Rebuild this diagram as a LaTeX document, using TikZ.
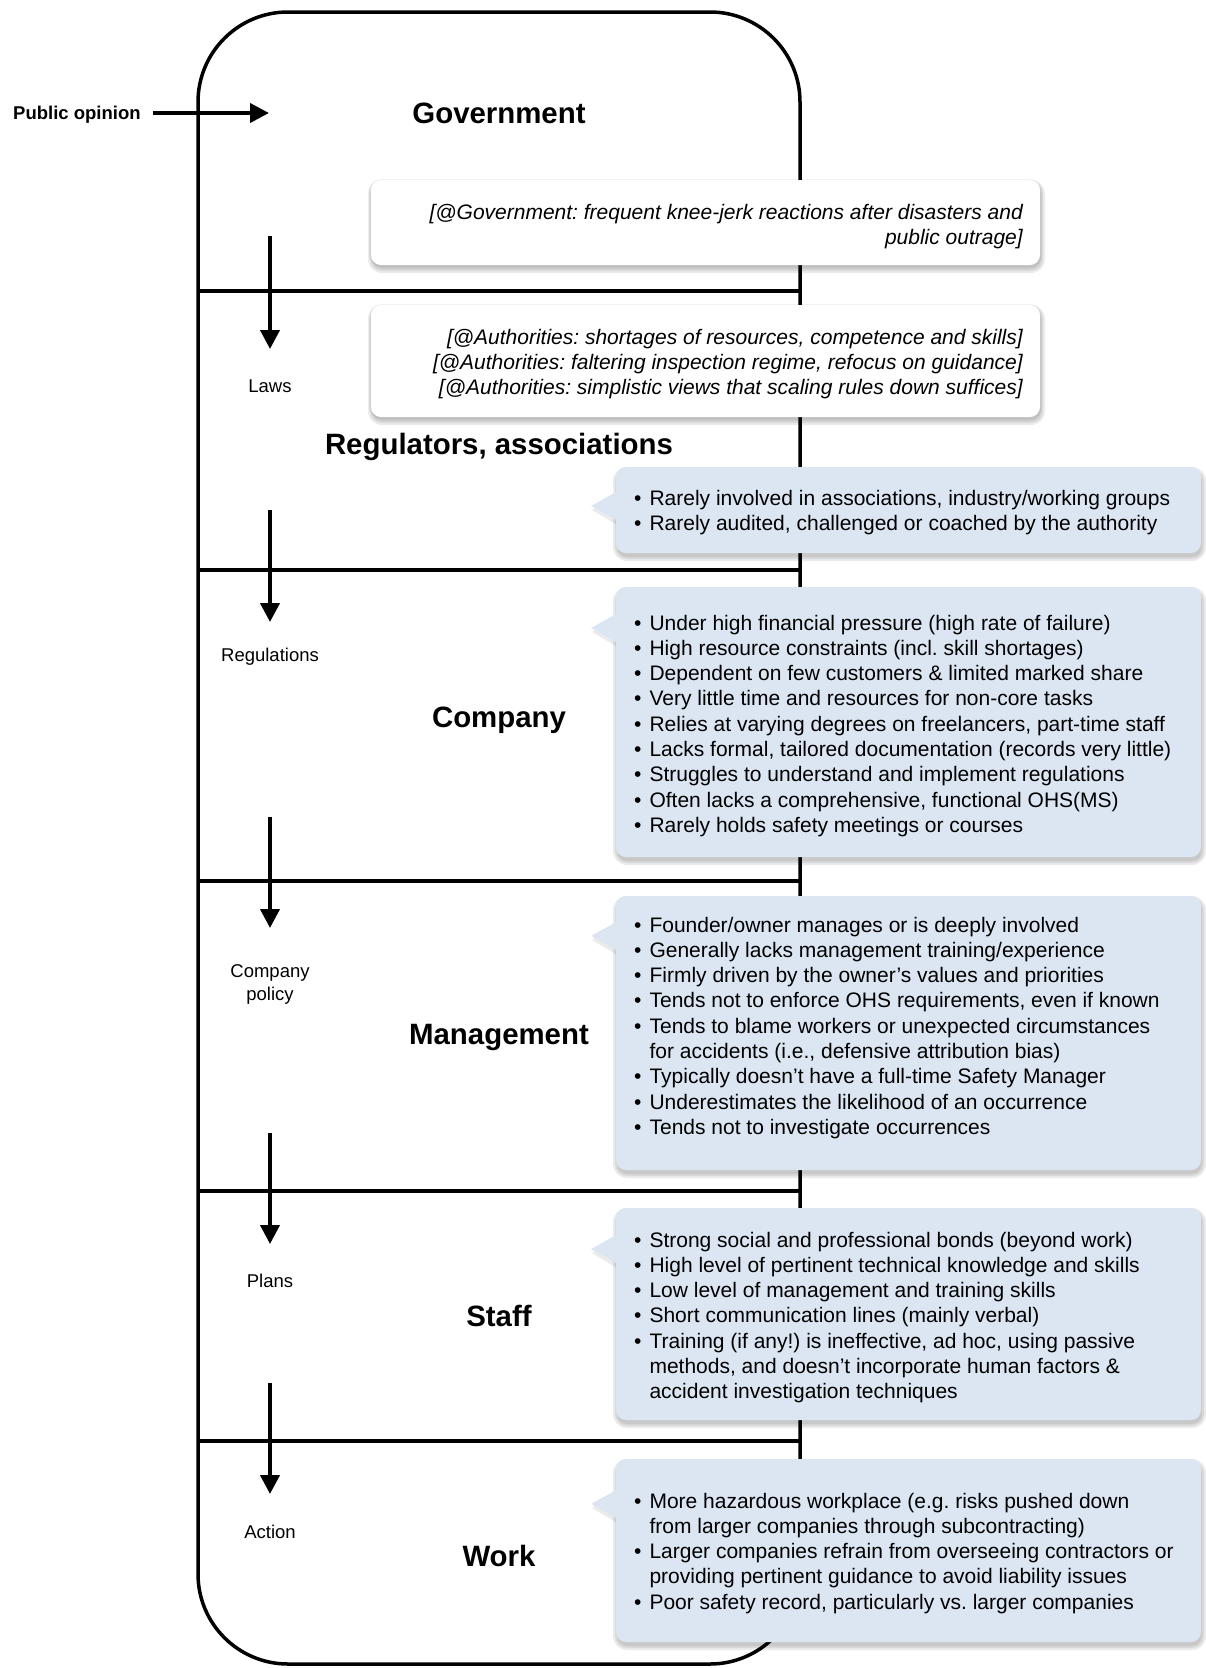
\documentclass[tikz,border=0pt]{standalone}
\usepackage{fontspec}
\setmainfont{Liberation Sans}
\usetikzlibrary{arrows.meta}
\definecolor{callblue}{RGB}{220,230,242}
\frenchspacing
\newcommand\softshadow[4]{%
  \foreach \e in {0,2,4}{%
    \fill[black,opacity=0.08,rounded corners=10+\e]
      (#1-\e+1,#2-\e+4) rectangle (#3+\e+1,#4+\e+4);}}
\newcommand\bluecallout[5]{% L T R B tipy
  \softshadow{#1}{#2}{#3}{#4}%
  \fill[black,opacity=0.08] (#1+1,#5-15+4) -- (#1-25+1,#5+4) -- (#1+1,#5+15+4) -- cycle;
  \fill[callblue,rounded corners=10pt] (#1,#2) rectangle (#3,#4);
  \fill[callblue] (#1+2,#5-15) -- (#1-25,#5) -- (#1+2,#5+15) -- cycle;}
\newcommand\whitecallout[4]{%
  \softshadow{#1}{#2}{#3}{#4}%
  \fill[black,opacity=0.05,rounded corners=12pt] (#1-2,#2-1) rectangle (#3+2,#4+2);
  \fill[white,rounded corners=10pt] (#1,#2) rectangle (#3,#4);}
\newcommand\bl{•}
\begin{document}
\begin{tikzpicture}[x=1pt,y=-1pt,
  title/.style={font={\fontsize{29.4}{34}\selectfont\bfseries}, anchor=base, inner sep=0pt},
  lab/.style={font={\fontsize{18.5}{23}\selectfont}, anchor=base, inner sep=0pt},
  pubtext/.style={font={\fontsize{18.5}{23}\selectfont\bfseries}, anchor=base west, inner sep=0pt},
  body/.style={font={\fontsize{21}{25.3}\selectfont}, anchor=base west, inner sep=0pt},
  note/.style={font={\fontsize{21}{25.3}\selectfont\itshape}, anchor=base east, inner sep=0pt},
  flow/.style={line width=4pt, -{Triangle[length=19pt,width=19pt]}},
  divider/.style={line width=4pt},
  frame/.style={line width=3.5pt, rounded corners=90pt}]
\useasboundingbox (0,0) rectangle (1206,1668);

% outer frame and level dividers
\draw[frame] (198,12) rectangle (800,1664);
\foreach \yy in {291,570,881,1191,1441}{\draw[divider] (198,\yy) -- (800,\yy);}

% public opinion input
\node[pubtext] (pub) at (13,119) {Public opinion};
\coordinate (pubs) at (153,113);
\coordinate (pube) at (269,113);
\draw[flow] (pubs) -- (pube);

% level titles
\node[title] (gov) at (499,123) {Government};
\node[title] (reg) at (499,454) {Regulators, associations};
\node[title] (com) at (499,727) {Company};
\node[title] (man) at (499,1044) {Management};
\node[title] (sta) at (499,1326) {Staff};
\node[title] (wor) at (499,1566) {Work};

% flow arrows and labels
\coordinate (a1s) at (270,236);  \coordinate (a1e) at (270,349);
\coordinate (a2s) at (270,510);  \coordinate (a2e) at (270,622);
\coordinate (a3s) at (270,817);  \coordinate (a3e) at (270,928);
\coordinate (a4s) at (270,1133); \coordinate (a4e) at (270,1244);
\coordinate (a5s) at (270,1383); \coordinate (a5e) at (270,1494);
\draw[flow] (a1s) -- (a1e);
\draw[flow] (a2s) -- (a2e);
\draw[flow] (a3s) -- (a3e);
\draw[flow] (a4s) -- (a4e);
\draw[flow] (a5s) -- (a5e);
\node[lab] (laws) at (270,392) {Laws};
\node[lab] (regs) at (270,661) {Regulations};
\node[lab] (pol) at (270,977) {\begin{tabular}[t]{@{}c@{}}Company\\policy\end{tabular}};
\node[lab] (plans) at (270,1287) {Plans};
\node[lab] (act) at (270,1538) {Action};

% white notes
\whitecallout{371}{180}{1040}{265}
\node[note] (n1) at (1023,219) {\begin{tabular}[t]{@{}r@{}}{}[@Government: frequent knee-jerk reactions after disasters and\\public outrage]\end{tabular}};
\whitecallout{371}{305}{1040}{417}
\node[note] (n2) at (1023,344) {\begin{tabular}[t]{@{}r@{}}{}[@Authorities: shortages of resources, competence and skills]\\{}[@Authorities: faltering inspection regime, refocus on guidance]\\{}[@Authorities: simplistic views that scaling rules down suffices]\end{tabular}};

% blue callouts
\bluecallout{616}{467}{1201}{553}{506}
\node[body] (c3) at (634,505) {\begin{tabular}[t]{@{}l@{\hspace{8pt}}l@{}}
\bl & Rarely involved in associations, industry/working groups\\
\bl & Rarely audited, challenged or coached by the authority\end{tabular}};

\bluecallout{616}{587}{1201}{857}{628}
\node[body] (c4) at (634,630) {\begin{tabular}[t]{@{}l@{\hspace{8pt}}l@{}}
\bl & Under high financial pressure (high rate of failure)\\
\bl & High resource constraints (incl. skill shortages)\\
\bl & Dependent on few customers \& limited marked share\\
\bl & Very little time and resources for non-core tasks\\
\bl & Relies at varying degrees on freelancers, part-time staff\\
\bl & Lacks formal, tailored documentation (records very little)\\
\bl & Struggles to understand and implement regulations\\
\bl & Often lacks a comprehensive, functional OHS(MS)\\
\bl & Rarely holds safety meetings or courses\end{tabular}};

\bluecallout{616}{896}{1201}{1170}{936}
\node[body] (c5) at (634,932) {\begin{tabular}[t]{@{}l@{\hspace{8pt}}l@{}}
\bl & Founder/owner manages or is deeply involved\\
\bl & Generally lacks management training/experience\\
\bl & Firmly driven by the owner’s values and priorities\\
\bl & Tends not to enforce OHS requirements, even if known\\
\bl & Tends to blame workers or unexpected circumstances\\
    & for accidents (i.e., defensive attribution bias)\\
\bl & Typically doesn’t have a full-time Safety Manager\\
\bl & Underestimates the likelihood of an occurrence\\
\bl & Tends not to investigate occurrences\end{tabular}};

\bluecallout{616}{1208}{1201}{1420}{1249}
\node[body] (c6) at (634,1247) {\begin{tabular}[t]{@{}l@{\hspace{8pt}}l@{}}
\bl & Strong social and professional bonds (beyond work)\\
\bl & High level of pertinent technical knowledge and skills\\
\bl & Low level of management and training skills\\
\bl & Short communication lines (mainly verbal)\\
\bl & Training (if any!) is ineffective, ad hoc, using passive\\
    & methods, and doesn’t incorporate human factors \&\\
    & accident investigation techniques\end{tabular}};

\bluecallout{616}{1459}{1201}{1642}{1504}
\node[body] (c7) at (634,1508) {\begin{tabular}[t]{@{}l@{\hspace{8pt}}l@{}}
\bl & More hazardous workplace (e.g. risks pushed down\\
    & from larger companies through subcontracting)\\
\bl & Larger companies refrain from overseeing contractors or\\
    & providing pertinent guidance to avoid liability issues\\
\bl & Poor safety record, particularly vs. larger companies\end{tabular}};
\end{tikzpicture}
\end{document}
